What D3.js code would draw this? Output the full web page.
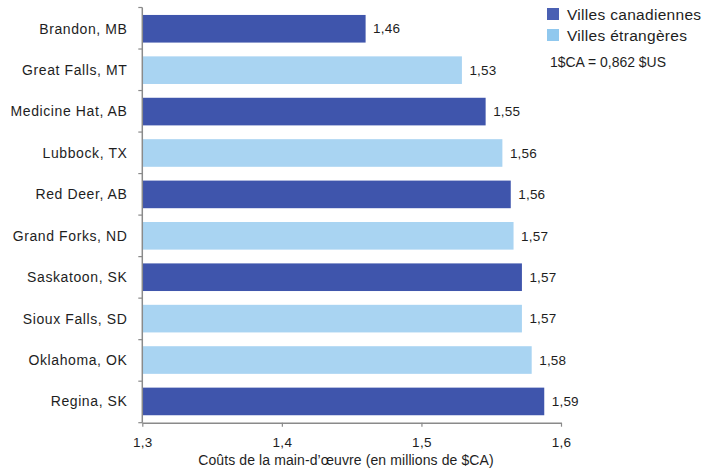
<!DOCTYPE html>
<html>
<head>
<meta charset="utf-8">
<script src="https://cdn.jsdelivr.net/npm/d3@7"></script>
<style>
  html, body { margin: 0; padding: 0; background: #fff; }
  svg { display: block; font-family: "Liberation Sans", Arial, Helvetica, sans-serif; }
</style>
</head>
<body>
<svg id="chart" width="717" height="472"></svg>
<script>
// Labour costs by city (millions of CAD)
const cities = ["Brandon, MB", "Great Falls, MT", "Medicine Hat, AB", "Lubbock, TX", "Red Deer, AB",
                "Grand Forks, ND", "Saskatoon, SK", "Sioux Falls, SD", "Oklahoma, OK", "Regina, SK"];
const costs = [1.460, 1.529, 1.546, 1.558, 1.564, 1.566, 1.572, 1.572, 1.579, 1.588];
const groups = ["ca", "us", "ca", "us", "ca", "us", "ca", "us", "us", "ca"];
const xTicks = [1.3, 1.4, 1.5, 1.6];
const legendLabels = ["Villes canadiennes", "Villes étrangères"];
const exchangeNote = "1$CA = 0,862 $US";
const axisTitle = "Coûts de la main-d’œuvre (en millions de $CA)";

const barColor = { ca: "#3f55ac", us: "#a9d4f2" };
const legendColor = { ca: "#4a60b3", us: "#90c8ee" };
const textColor = "#1e1e1e";

const svg = d3.select("#chart");
const plotLeft = 142.3, plotRight = 561, plotTop = 7.5, plotBottom = 422.7;

const x = d3.scaleLinear().domain([1.3, 1.6]).range([plotLeft, plotRight]);
const y = d3.scaleBand().domain(cities).range([plotTop, plotBottom]).paddingInner(0.333).paddingOuter(0.18);

const fmt = v => d3.format(".2f")(v).replace(".", ",");

const rows = cities.map((c, i) => ({ city: c, cost: costs[i], group: groups[i] }));

// Bars
svg.append("g").selectAll("rect").data(rows).join("rect")
  .attr("x", x(1.3))
  .attr("y", d => y(d.city))
  .attr("width", d => x(d.cost) - x(1.3))
  .attr("height", y.bandwidth())
  .attr("fill", d => barColor[d.group]);

// Value labels
svg.append("g").selectAll("text").data(rows).join("text")
  .attr("x", d => x(d.cost) + 7.5)
  .attr("y", d => y(d.city) + y.bandwidth() / 2)
  .attr("dy", "0.35em")
  .attr("font-size", 13.5)
  .attr("letter-spacing", 0.2)
  .attr("fill", textColor)
  .text(d => fmt(d.cost));

// Category labels
svg.append("g").selectAll("text").data(rows).join("text")
  .attr("x", 127.5)
  .attr("y", d => y(d.city) + y.bandwidth() / 2)
  .attr("dy", "0.35em")
  .attr("text-anchor", "end")
  .attr("font-size", 14)
  .attr("letter-spacing", 0.6)
  .attr("fill", textColor)
  .text(d => d.city);

const axisColor = "#8a8a8a";

// Y axis line with separator ticks between categories
const step = (plotBottom - plotTop) / cities.length;
const sepY = d3.range(cities.length + 1).map(i => plotTop + i * step);
svg.append("line")
  .attr("x1", plotLeft).attr("x2", plotLeft).attr("y1", plotTop).attr("y2", plotBottom)
  .attr("stroke", axisColor).attr("stroke-width", 1.5);
svg.append("g").selectAll("line").data(sepY).join("line")
  .attr("x1", plotLeft - 4).attr("x2", plotLeft)
  .attr("y1", d => d).attr("y2", d => d)
  .attr("stroke", axisColor).attr("stroke-width", 1.2);

// X axis
const xAxis = d3.axisBottom(x).tickValues(xTicks).tickSize(4).tickSizeOuter(0).tickPadding(11)
  .tickFormat(d => d3.format(".1f")(d).replace(".", ","));
const gx = svg.append("g").attr("transform", `translate(0,${plotBottom})`).call(xAxis);
gx.select(".domain").attr("stroke", axisColor).attr("stroke-width", 1.5);
gx.selectAll(".tick line").attr("stroke", axisColor).attr("stroke-width", 1.2);
gx.selectAll(".tick text").attr("font-size", 13.5).attr("letter-spacing", 0.3).attr("fill", textColor)
  .attr("font-family", "'Liberation Sans', Arial, sans-serif");

svg.append("text")
  .attr("x", 346)
  .attr("y", 465)
  .attr("text-anchor", "middle")
  .attr("font-size", 14)
  .attr("letter-spacing", 0.1)
  .attr("fill", textColor)
  .text(axisTitle);

// Legend
const lg = svg.append("g");
["ca", "us"].forEach((k, i) => {
  lg.append("rect").attr("x", 547).attr("y", 8 + i * 21).attr("width", 12).attr("height", 12)
    .attr("fill", legendColor[k]);
  lg.append("text").attr("x", 567).attr("y", 20 + i * 21)
    .attr("font-size", 15.5).attr("letter-spacing", 0.3)
    .attr("fill", textColor).text(legendLabels[i]);
});
lg.append("text").attr("x", 550).attr("y", 66.5)
  .attr("font-size", 14.5).attr("fill", textColor)
  .attr("textLength", 116).attr("lengthAdjust", "spacingAndGlyphs")
  .text(exchangeNote);
</script>
</body>
</html>
